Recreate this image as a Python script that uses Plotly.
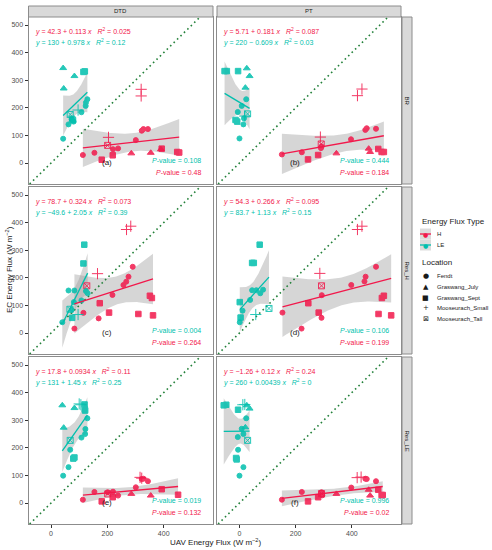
import numpy as np
import plotly.graph_objects as go

W, H = 492, 550
H_COLOR = "#F2184B"
LE_COLOR = "#00BFAD"
FONT = "Liberation Sans, Arial, sans-serif"

COL_NAMES = ["DTD", "PT"]
ROW_NAMES = ["BR", "Res_H", "Res_LE"]
PANEL_LABELS = ["(a)", "(b)", "(c)", "(d)", "(e)", "(f)"]

X_RANGE = [-80, 575]
Y_RANGE = [-76, 529]
X_TICKS = [0, 200, 400]
Y_TICKS = [0, 100, 200, 300, 400, 500]

# location codes: F Fendt, J Graswang_July, S Graswang_Sept, M Mooseurach_Small, T Mooseurach_Tall
LOCATIONS = {"F": "Fendt", "J": "Graswang_July", "S": "Graswang_Sept",
             "M": "Mooseurach_Small", "T": "Mooseurach_Tall"}
SYMBOLS = {"F": "circle", "J": "triangle-up", "S": "square",
           "M": "cross-thin-open", "T": "square-x-open"}
SIZES = {"F": 5, "J": 6, "S": 5.5, "M": 8, "T": 6}

# ---- panel (a): DTD / BR
A_H_X = [113, 154, 220, 238, 301, 322, 328, 344, 285, 354, 390, 180, 219, 393, 448, 455, 204, 320, 320, 201]
A_H_Y = [29, 37, 50, 53, 83, 117, 123, 123, 35, 37, 50, 12, 28, 52, 40, 38, 93, 267, 243, 64]
A_H_LOC = list("FFFFFFFFJJJSSSSSMMMT")
A_LE_X = [43, 62, 73, 108, 123, 124, 129, 80, 43, 45, 83, 120, 115, 75, 78, 96, 68]
A_LE_Y = [88, 140, 159, 184, 207, 219, 231, 150, 344, 270, 315, 332, 330, 160, 155, 192, 176]
A_LE_LOC = list("FFFFFFFFJJJSSSSMT")

# ---- panel (b): PT / BR
B_H_X = [151, 222, 290, 292, 397, 448, 453, 486, 345, 460, 465, 244, 280, 494, 506, 514, 288, 420, 436, 291]
B_H_Y = [31, 39, 54, 60, 86, 120, 126, 124, 35, 52, 40, 13, 29, 51, 40, 40, 94, 244, 268, 69]
B_H_LOC = list("FFFFFFFFJJJSSSSSMMMT")
B_LE_X = [24, 8, -6, 0, 14, 16, 26, 36, 21, -53, -45, -5, -14, -8, 19, 29]
B_LE_Y = [231, 207, 185, 89, 140, 162, 343, 315, 273, 333, 333, 333, 156, 150, 170, 178]
B_LE_LOC = list("FFFFFFJJJSSSSSMT")

# ---- panel (c): DTD / Res_H
C_H_X = [83, 115, 169, 218, 257, 267, 275, 290, 173, 206, 310, 362, 351, 358, 165, 268, 283, 127]
C_H_Y = [16, 73, 53, 138, 174, 186, 204, 240, 108, 74, 69, 64, 135, 127, 215, 375, 387, 171]
C_H_LOC = list("FFFFFFFFSSSSSSMMMT")
C_LE_X = [62, 83, 81, 40, 108, 124, 130, 73, 118, 115, 75, 96, 67]
C_LE_Y = [154, 154, 112, 39, 118, 152, 144, 84, 320, 252, 55, 67, 86]
C_LE_LOC = list("FFFFFFFFSSSMT")

# ---- panel (d): PT / Res_H
D_H_X = [153, 221, 292, 293, 398, 445, 449, 486, 245, 282, 495, 540, 507, 514, 286, 420, 436, 292]
D_H_Y = [74, 16, 55, 137, 174, 187, 204, 240, 108, 74, 69, 64, 127, 135, 216, 375, 387, 171]
D_H_LOC = list("FFFFFFFFSSSSSSMMMT")
D_LE_X = [11, 38, 45, 60, 74, 84, 1, 72, 45, 51, 1, 4, 58, 105]
D_LE_Y = [81, 120, 155, 155, 144, 157, 39, 320, 254, 254, 112, 56, 67, 89]
D_LE_LOC = list("FFFFFFFSSSSSMT")

# ---- panel (e): DTD / Res_LE
E_H_X = [113, 154, 201, 220, 238, 301, 322, 328, 344, 285, 354, 180, 219, 393, 451, 316, 322, 201]
E_H_Y = [12, 40, 39, 41, 27, 57, 87, 88, 79, 33, 27, 6, 21, 50, 30, 93, 90, 33]
E_H_LOC = list("FFFFFFFFFJJSSSSMMT")
E_LE_X = [43, 62, 68, 108, 121, 122, 129, 40, 45, 83, 119, 120, 121, 79, 83, 100, 106, 68]
E_LE_Y = [99, 130, 193, 237, 250, 268, 307, 354, 273, 344, 357, 339, 335, 161, 165, 359, 356, 227]
E_LE_LOC = list("FFFFFFFJJJSSSSSMMT")

# ---- panel (f): PT / Res_LE
F_H_X = [151, 222, 292, 295, 398, 448, 453, 486, 345, 460, 465, 244, 280, 494, 506, 510, 419, 433, 292]
F_H_Y = [12, 40, 39, 28, 56, 88, 87, 79, 33, 48, 27, 6, 21, 48, 29, 29, 92, 94, 34]
F_H_LOC = list("FFFFFFFFJJJSSSSSMMT")
F_LE_X = [24, 8, -6, 14, -5, 0, 14, 26, 36, 21, -56, -47, -5, -12, -10, 12, 19, 29]
F_LE_Y = [307, 269, 239, 250, 193, 99, 130, 354, 342, 274, 354, 356, 338, 163, 158, 356, 357, 227]
F_LE_LOC = list("FFFFFFFJJJSSSSSMMT")

# fitted lines and tests as printed on each panel (a..f)
H_INTERCEPT = [42.3, 5.71, 78.7, 54.3, 17.8, -1.26]
H_SLOPE = [0.113, 0.181, 0.324, 0.266, 0.0934, 0.12]
H_R2 = [0.025, 0.087, 0.073, 0.095, 0.11, 0.24]
H_P = [0.48, 0.184, 0.264, 0.199, 0.132, 0.02]
LE_INTERCEPT = [130, 220, -49.6, 83.7, 131, 260]
LE_SLOPE = [0.978, -0.609, 2.05, 1.13, 1.45, 0.00439]
LE_R2 = [0.12, 0.03, 0.39, 0.15, 0.25, 0]
LE_P = [0.108, 0.444, 0.004, 0.106, 0.019, 0.996]

PANEL_DATA = [
    (A_H_X, A_H_Y, A_H_LOC, A_LE_X, A_LE_Y, A_LE_LOC),
    (B_H_X, B_H_Y, B_H_LOC, B_LE_X, B_LE_Y, B_LE_LOC),
    (C_H_X, C_H_Y, C_H_LOC, C_LE_X, C_LE_Y, C_LE_LOC),
    (D_H_X, D_H_Y, D_H_LOC, D_LE_X, D_LE_Y, D_LE_LOC),
    (E_H_X, E_H_Y, E_H_LOC, E_LE_X, E_LE_Y, E_LE_LOC),
    (F_H_X, F_H_Y, F_H_LOC, F_LE_X, F_LE_Y, F_LE_LOC),
]

# pixel boxes of the panels (left/right, top/bottom)
COL_PX = [(28.5, 213), (217, 401)]
ROW_PX = [(17, 184), (187, 354), (357, 524)]


def px(x):
    return x / W


def py(y):
    return 1 - y / H


def num(v):
    return f"{v:g}".replace("-", "\u2212")


def equation(a, b, r2):
    sign = "\u2212" if b < 0 else "+"
    return (f"<i>y</i> = {num(a)} {sign} {abs(b):g} <i>x</i>   "
            f"<i>R</i><sup>2</sup> = {r2:g}")


def label(xp, yp, text, size, color="#1a1a1a", anchor="center", angle=0, family=FONT):
    """text placed at pixel position (xp, yp) of the figure"""
    return dict(xref="paper", yref="paper", x=px(xp), y=py(yp), text=text,
                xanchor=anchor, yanchor="middle", textangle=angle, showarrow=False,
                font=dict(size=size, color=color, family=family))


def smooth_band(xs, ys, a, b):
    """line from printed coefficients, 95% band from the scatter"""
    xs = np.asarray(xs, float)
    ys = np.asarray(ys, float)
    n = len(xs)
    resid = ys - (a + b * xs)
    s = np.sqrt((resid ** 2).sum() / (n - 2))
    xbar = xs.mean()
    sxx = ((xs - xbar) ** 2).sum()
    g = np.linspace(xs.min(), xs.max(), 80)
    se = s * np.sqrt(1 / n + (g - xbar) ** 2 / sxx)
    t = 1.96 + 2.4 / (n - 2)
    fit = a + b * g
    return g, fit, fit - t * se, fit + t * se


fig = go.Figure()
annotations = []
shapes = []

for k in range(6):
    r, c = divmod(k, 2)
    sfx = "" if k == 0 else str(k + 1)
    xref, yref = "x" + sfx, "y" + sfx
    hx, hy, hloc, lx, ly, lloc = PANEL_DATA[k]

    groups = [(hx, hy, hloc, H_INTERCEPT[k], H_SLOPE[k], H_COLOR),
              (lx, ly, lloc, LE_INTERCEPT[k], LE_SLOPE[k], LE_COLOR)]

    # confidence ribbons
    bands = []
    for xs, ys, _, a, b, col in groups:
        g, fit, lo, hi = smooth_band(xs, ys, a, b)
        bands.append((g, fit, col))
        fig.add_trace(go.Scatter(
            x=np.concatenate([g, g[::-1]]), y=np.concatenate([hi, lo[::-1]]),
            fill="toself", fillcolor="rgba(153,153,153,0.4)", line=dict(width=0),
            mode="lines", hoverinfo="skip", showlegend=False, xaxis=xref, yaxis=yref))

    # 1:1 line
    fig.add_trace(go.Scatter(
        x=Y_RANGE, y=Y_RANGE, mode="lines",
        line=dict(color="#23813a", width=1.6, dash="1.6px,3.2px"),
        hoverinfo="skip", showlegend=False, xaxis=xref, yaxis=yref))

    # points
    for xs, ys, locs, _, _, col in groups:
        for code in LOCATIONS:
            sel = [i for i, l in enumerate(locs) if l == code]
            if not sel:
                continue
            fig.add_trace(go.Scatter(
                x=[xs[i] for i in sel], y=[ys[i] for i in sel], mode="markers",
                marker=dict(symbol=SYMBOLS[code], size=SIZES[code], color=col,
                            line=dict(width=1, color=col)),
                opacity=0.85, name=LOCATIONS[code], showlegend=False,
                xaxis=xref, yaxis=yref))

    # fitted lines
    for g, fit, col in bands:
        fig.add_trace(go.Scatter(
            x=g, y=fit, mode="lines", line=dict(color=col, width=1.3),
            hoverinfo="skip", showlegend=False, xaxis=xref, yaxis=yref))

    x0, x1 = COL_PX[c]
    y0, y1 = ROW_PX[r]
    fig.update_layout({
        "xaxis" + sfx: dict(
            domain=[px(x0), px(x1)], range=X_RANGE, anchor=yref,
            showgrid=False, zeroline=False, showline=True, mirror=True,
            linecolor="#8c8c8c", linewidth=1, tickvals=X_TICKS,
            ticks="outside" if r == 2 else "", ticklen=3, tickcolor="#333333",
            showticklabels=(r == 2), ticklabelstandoff=0,
            tickfont=dict(size=7, color="#4d4d4d", family=FONT)),
        "yaxis" + sfx: dict(
            domain=[py(y1), py(y0)], range=Y_RANGE, anchor=xref,
            showgrid=False, zeroline=False, showline=True, mirror=True,
            linecolor="#8c8c8c", linewidth=1, tickvals=Y_TICKS,
            ticks="outside" if c == 0 else "", ticklen=3, tickcolor="#333333",
            showticklabels=(c == 0),
            tickfont=dict(size=7, color="#4d4d4d", family=FONT)),
    })

    dref_x, dref_y = xref + " domain", yref + " domain"
    annotations += [
        dict(xref=dref_x, yref=dref_y, x=0.024, y=0.916, xanchor="left", yanchor="middle",
             text=equation(H_INTERCEPT[k], H_SLOPE[k], H_R2[k]), showarrow=False,
             font=dict(size=7, color=H_COLOR, family=FONT)),
        dict(xref=dref_x, yref=dref_y, x=0.024, y=0.845, xanchor="left", yanchor="middle",
             text=equation(LE_INTERCEPT[k], LE_SLOPE[k], LE_R2[k]), showarrow=False,
             font=dict(size=7, color=LE_COLOR, family=FONT)),
        dict(xref=dref_x, yref=dref_y, x=0.946, y=0.138, xanchor="right", yanchor="middle",
             text=f"<i>P</i>-value = {LE_P[k]:g}", showarrow=False,
             font=dict(size=7, color=LE_COLOR, family=FONT)),
        dict(xref=dref_x, yref=dref_y, x=0.946, y=0.066, xanchor="right", yanchor="middle",
             text=f"<i>P</i>-value = {H_P[k]:g}", showarrow=False,
             font=dict(size=7, color=H_COLOR, family=FONT)),
        dict(xref=dref_x, yref=dref_y, x=0.425, y=0.126, xanchor="center", yanchor="middle",
             text=PANEL_LABELS[k], showarrow=False,
             font=dict(size=8, color="#222222", family=FONT)),
    ]

# facet strips
for c, name in enumerate(COL_NAMES):
    x0, x1 = COL_PX[c]
    shapes.append(dict(type="rect", xref="paper", yref="paper",
                       x0=px(x0), x1=px(x1), y0=py(17), y1=py(6),
                       fillcolor="#d9d9d9", line=dict(color="#8c8c8c", width=1)))
    annotations.append(label((x0 + x1) / 2, 11.5, name, 6))
for r, name in enumerate(ROW_NAMES):
    y0, y1 = ROW_PX[r]
    shapes.append(dict(type="rect", xref="paper", yref="paper",
                       x0=px(402), x1=px(412), y0=py(y1), y1=py(y0),
                       fillcolor="#d9d9d9", line=dict(color="#8c8c8c", width=1)))
    annotations.append(label(407, (y0 + y1) / 2, name, 6, angle=90))

# axis titles
annotations += [
    label(9, 270, "EC Energy Flux (W m<sup>\u22122</sup>)", 8, angle=-90),
    label(215, 542, "UAV Energy Flux (W m<sup>\u22122</sup>)", 8),
]

# legend drawn by hand (keeps ggplot spacing)
LEG_X = 420
annotations.append(label(LEG_X, 221, "Energy Flux Type", 8, anchor="left"))
for name, col, yc in [("H", H_COLOR, 234), ("LE", LE_COLOR, 245)]:
    shapes.append(dict(type="rect", xref="paper", yref="paper",
                       x0=px(LEG_X), x1=px(LEG_X + 11), y0=py(yc + 5.5), y1=py(yc - 5.5),
                       fillcolor="#dcdcdc", line=dict(width=0)))
    shapes.append(dict(type="line", xref="paper", yref="paper",
                       x0=px(LEG_X), x1=px(LEG_X + 11), y0=py(yc), y1=py(yc),
                       line=dict(color=col, width=1.3)))
    annotations.append(label(LEG_X + 5.5, yc, "\u25cf", 6, color=col, family="DejaVu Sans"))
    annotations.append(label(LEG_X + 15, yc, name, 6, anchor="left"))

annotations.append(label(LEG_X, 262, "Location", 8, anchor="left"))
LEG_GLYPHS = {"F": "\u25cf", "J": "\u25b2", "S": "\u25a0", "M": "+", "T": "\u22a0"}
for i, code in enumerate(LOCATIONS):
    yc = 276 + i * 10.8
    annotations.append(label(LEG_X + 5.5, yc, LEG_GLYPHS[code], 7, family="DejaVu Sans"))
    annotations.append(label(LEG_X + 15, yc, LOCATIONS[code], 6, anchor="left"))

fig.update_layout(
    width=W, height=H,
    margin=dict(l=0, r=0, t=0, b=0),
    paper_bgcolor="white", plot_bgcolor="white",
    showlegend=False,
    annotations=annotations, shapes=shapes,
    font=dict(family=FONT),
)

# the page body has a default 8px margin; drop it so the figure fills the window
fig.write_html("out.html", config={"displayModeBar": False},
               post_script="document.body.style.margin='0';")
